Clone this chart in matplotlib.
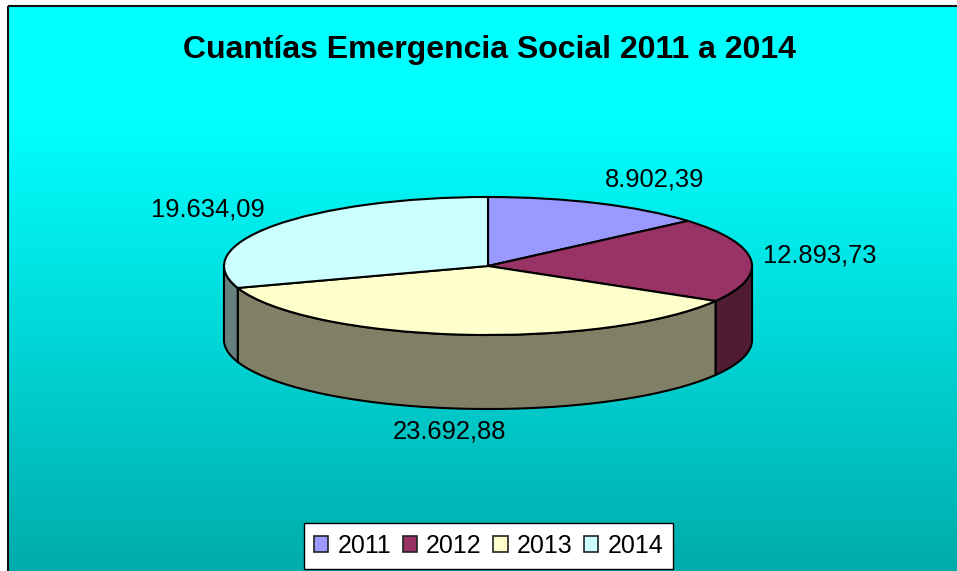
import numpy as np
import matplotlib
matplotlib.use("Agg")
import matplotlib.pyplot as plt
from matplotlib.colors import LinearSegmentedColormap
from matplotlib.patches import Polygon, Rectangle

plt.rcParams['font.family'] = ['Liberation Sans', 'DejaVu Sans']

title = "Cuantías Emergencia Social 2011 a 2014"
years = ["2011", "2012", "2013", "2014"]
amounts = [8902.39, 12893.73, 23692.88, 19634.09]
value_labels = ["8.902,39", "12.893,73", "23.692,88", "19.634,09"]
top_colors = ["#9999FF", "#993366", "#FFFFCC", "#CCFFFF"]
side_colors = ["#50507F", "#501C34", "#808066", "#668080"]
label_pos = [(655, 179), (820, 255), (449, 432), (208, 209)]

W, H = 957, 571
fig = plt.figure(figsize=(W / 100, H / 100), dpi=100, facecolor="white")

# Page layer in pixel coordinates
bg = fig.add_axes([0, 0, 1, 1])
bg.set_xlim(0, W)
bg.set_ylim(H, 0)
bg.axis("off")
cmap = LinearSegmentedColormap.from_list("g", [(0, "#00FFFF"), (0.2, "#00FFFF"), (1, "#00ABAB")], N=256)
grad = np.linspace(0, 1, 256).reshape(-1, 1)
bg.imshow(grad, cmap=cmap, extent=(8, W + 2, H + 2, 6), aspect="auto", zorder=0)
bg.set_xlim(0, W)
bg.set_ylim(H, 0)
bg.add_patch(Rectangle((8, 6), W - 6, H, fill=False, ec="#111111", lw=1.5, zorder=1))
bg.text(489.5, 50, title, ha="center", va="center", fontsize=23.05, fontweight="bold", color="black")

for s, (x, y) in zip(value_labels, label_pos):
    bg.text(x, y, s, ha="center", va="center", fontsize=18.4, color="black", zorder=6)

# Pie layer: the unit circle squashed into an ellipse
cx, cy, rx, ry, depth = 488, 266, 264, 69, 74
d = depth / ry
bottom_px = cy + ry + depth
pie_ax = fig.add_axes([(cx - rx) / W, 1 - bottom_px / H, 2 * rx / W, (ry + ry + depth) / H], zorder=3)
wedges, _ = pie_ax.pie(amounts, colors=top_colors, startangle=90, counterclock=False,
                       wedgeprops=dict(edgecolor="black", linewidth=1.5, zorder=4), radius=1)
for w in wedges:
    w.set_clip_on(False)
pie_ax.set_aspect("auto")
pie_ax.set_xlim(-1, 1)
pie_ax.set_ylim(-1 - d, 1)
pie_ax.axis("off")

# Side walls from slice angles (visible only on the front half)
cum = np.cumsum([0] + amounts) / sum(amounts) * 360
for i in range(len(amounts)):
    a0, a1 = max(cum[i], 90), min(cum[i + 1], 270)
    if a1 <= a0:
        continue
    t = np.radians(np.linspace(a0, a1, 100))
    xs, ys = np.sin(t), np.cos(t)
    verts = np.r_[np.c_[xs, ys], np.c_[xs, ys - d][::-1]]
    pie_ax.add_patch(Polygon(verts, closed=True, fc=side_colors[i], ec="black",
                             lw=1.5, joinstyle="round", clip_on=False, zorder=2))

# Legend with its own box
bg.add_patch(Rectangle((304, 523), 369, 46, fc="white", ec="black", lw=1.0, zorder=5))
handles = [Rectangle((0, 0), 1, 1, fc=c, ec="#222222", lw=1.2) for c in top_colors]
leg = bg.legend(handles, years, ncol=4, loc="center", bbox_to_anchor=(488.5, 546),
                bbox_transform=bg.transData, fontsize=18, frameon=False, handlelength=0.58,
                handleheight=0.58, handletextpad=0.36, columnspacing=0.46,
                borderpad=0.4, borderaxespad=0)
leg.set_zorder(7)

fig.savefig("out.png", dpi=100, facecolor="white")
